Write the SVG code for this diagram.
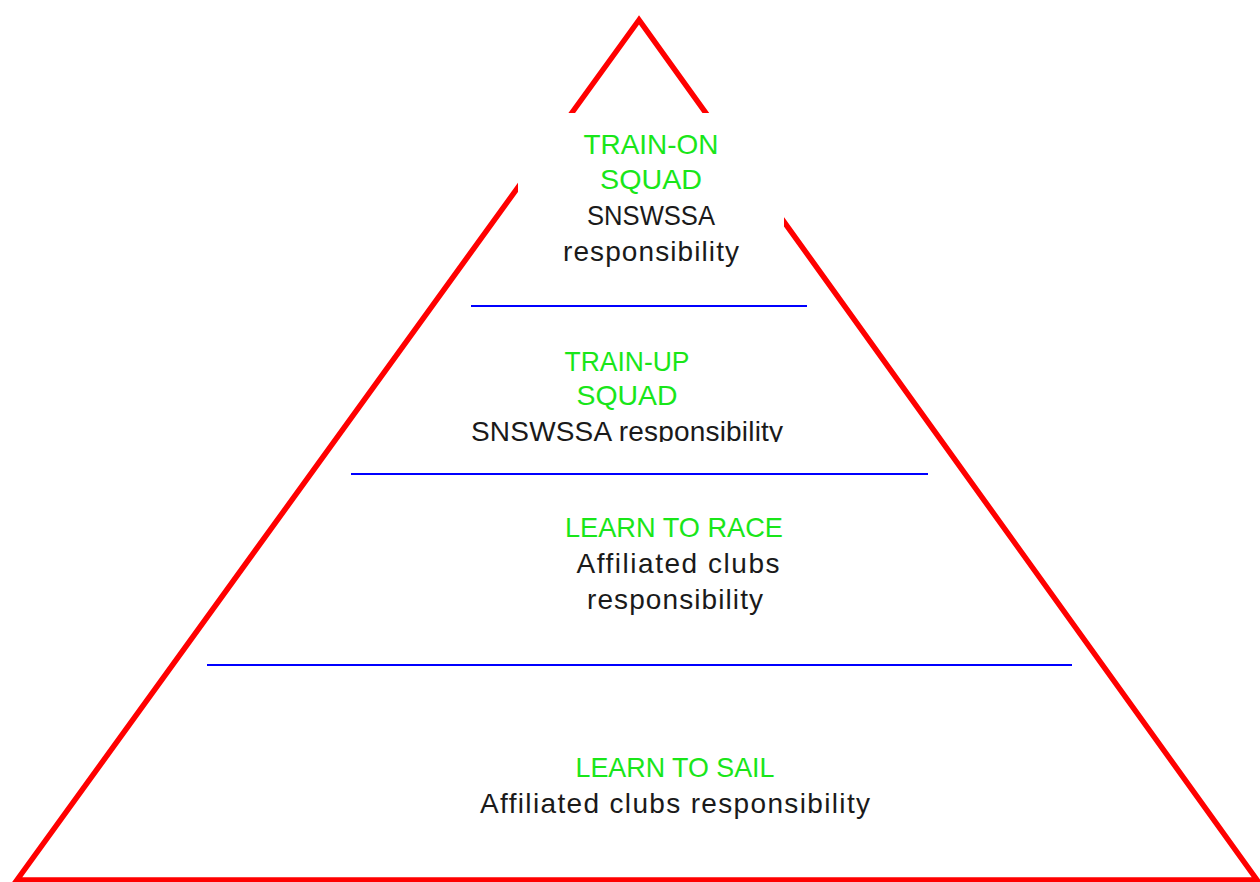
<svg xmlns="http://www.w3.org/2000/svg" width="1260" height="882" viewBox="0 0 1260 882">
  <style>
    .tri { fill: none; stroke: #ff0000; stroke-width: 5.5; stroke-linejoin: miter; }
    .sep { stroke: #0000ff; stroke-width: 2; }
    text { font-family: "Liberation Sans", "DejaVu Sans", sans-serif; font-size: 28px; text-anchor: middle; }
    .title { fill: #19e619; }
    .owner { fill: #1a1a1a; }
  </style>
  <defs>
    <clipPath id="tier2clip">
      <rect x="300" y="330" width="660" height="112"/>
    </clipPath>
  </defs>
  <rect width="1260" height="882" fill="#ffffff"/>

  <!-- pyramid outline -->
  <g id="pyramid">
    <polygon class="tri" points="639,20 17,880 1257,880"/>
  </g>

  <!-- tier separators -->
  <g id="connectors">
    <line class="sep" x1="471" y1="306" x2="807" y2="306"/>
    <line class="sep" x1="351" y1="474" x2="928" y2="474"/>
    <line class="sep" x1="207" y1="665" x2="1072" y2="665"/>
  </g>

  <!-- top tier: label box sits over the outline -->
  <g id="train-on">
    <rect x="518" y="113" width="266" height="160" fill="#ffffff"/>
    <text class="title" x="651" y="154" textLength="135" lengthAdjust="spacingAndGlyphs">TRAIN-ON</text>
    <text class="title" x="651" y="189" textLength="102" lengthAdjust="spacingAndGlyphs">SQUAD</text>
    <text class="owner" x="651" y="225" textLength="128" lengthAdjust="spacingAndGlyphs">SNSWSSA</text>
    <text class="owner" x="651" y="261" textLength="176" lengthAdjust="spacing">responsibility</text>
  </g>

  <g id="train-up">
    <text class="title" x="627" y="371" textLength="125" lengthAdjust="spacingAndGlyphs">TRAIN-UP</text>
    <text class="title" x="627" y="405" textLength="101" lengthAdjust="spacingAndGlyphs">SQUAD</text>
    <text class="owner" x="627" y="441" textLength="312" lengthAdjust="spacing" clip-path="url(#tier2clip)">SNSWSSA responsibility</text>
  </g>

  <g id="learn-to-race">
    <text class="title" x="674" y="537" textLength="218" lengthAdjust="spacingAndGlyphs">LEARN TO RACE</text>
    <text class="owner" x="678" y="573" textLength="203" lengthAdjust="spacing">Affiliated clubs</text>
    <text class="owner" x="675" y="609" textLength="176" lengthAdjust="spacing">responsibility</text>
  </g>

  <g id="learn-to-sail">
    <text class="title" x="675" y="777" textLength="199" lengthAdjust="spacingAndGlyphs">LEARN TO SAIL</text>
    <text class="owner" x="675" y="813" textLength="390" lengthAdjust="spacing">Affiliated clubs responsibility</text>
  </g>
</svg>
